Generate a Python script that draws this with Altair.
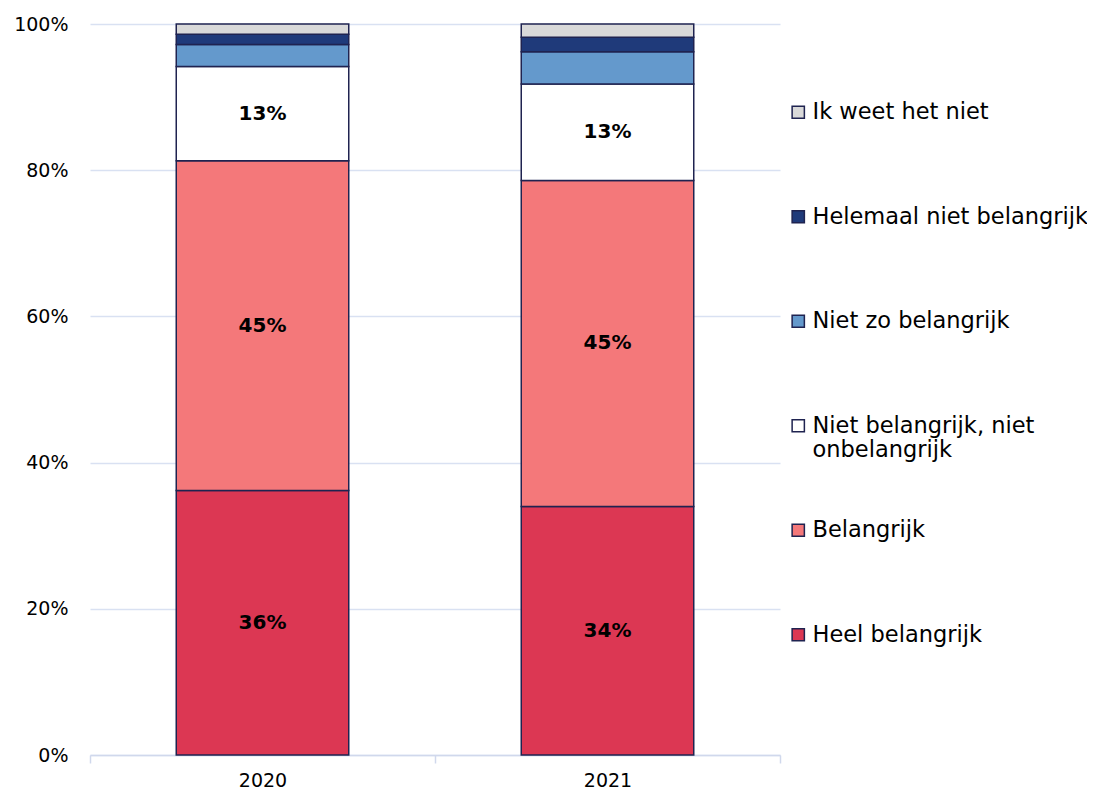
import altair as alt
import pandas as pd

years = ["2020", "2021"]
categories = ["Heel belangrijk", "Belangrijk", "Niet belangrijk, niet onbelangrijk",
              "Niet zo belangrijk", "Helemaal niet belangrijk", "Ik weet het niet"]
values_2020 = [36.2, 45.1, 12.9, 3.0, 1.4, 1.4]
values_2021 = [34.0, 44.6, 13.2, 4.4, 2.0, 1.8]
colors = ["#DC3753", "#F4787A", "#FFFFFF", "#6499CC", "#1F3A7A", "#D9D9D9"]
show_label = [True, True, True, False, False, False]

rows = []
for y, vals in zip(years, [values_2020, values_2021]):
    for i, (c, v) in enumerate(zip(categories, vals)):
        rows.append({"year": y, "cat": c, "value": v, "ord": i,
                     "lbl": f"{round(v)}%" if show_label[i] else ""})
df = pd.DataFrame(rows)

legend_order = categories[::-1]
legend_colors = colors[::-1]
FONT = "DejaVu Sans"

base = alt.Chart(df).transform_stack(
    stack="value", groupby=["year"], sort=[alt.SortField("ord", order="ascending")], as_=["y0", "y1"]
).transform_calculate(mid="(datum.y0 + datum.y1) / 2")

xenc = alt.X("year:N", title=None,
             scale=alt.Scale(paddingInner=0, paddingOuter=0),
             axis=alt.Axis(tickBand="extent", labelAngle=0, labelFontSize=19, labelFont=FONT,
                           labelColor="#000000", domainColor="#D0D8EC", tickColor="#D0D8EC",
                           tickSize=8, labelPadding=8, domainWidth=1.5, tickWidth=1.5))

bars = base.mark_bar(stroke="#1F2350", strokeWidth=1.5, width=alt.RelativeBandSize(0.5)).encode(
    x=xenc,
    y=alt.Y("y0:Q", title=None, scale=alt.Scale(domain=[0, 100], nice=False),
            axis=alt.Axis(values=[0, 20, 40, 60, 80, 100], labelExpr="datum.value + '%'",
                          labelFontSize=19, labelFont=FONT, labelColor="#000000",
                          domain=False, ticks=False, labelPadding=22,
                          gridColor="#D9E1F2", gridWidth=1.5)),
    y2="y1:Q",
    color=alt.Color("cat:N", scale=alt.Scale(domain=legend_order, range=legend_colors),
                    legend=alt.Legend(title=None, orient="none", legendX=697, legendY=77,
                                      symbolType="square", symbolSize=150, symbolStrokeColor="#1F2350",
                                      symbolStrokeWidth=1.5, labelFontSize=22.5, labelFont=FONT,
                                      labelColor="#000000", rowPadding=56.5, labelOffset=3,
                                      labelLimit=400, gridAlign="all",
                                      labelExpr="datum.label == 'Niet belangrijk, niet onbelangrijk' ? ['Niet belangrijk, niet', 'onbelangrijk'] : datum.label")),
)

texts = base.mark_text(fontSize=20, fontWeight="bold", font=FONT, color="#000000").encode(
    x=alt.X("year:N"),
    y=alt.Y("mid:Q"),
    text="lbl:N",
)

chart = alt.layer(bars, texts).properties(
    width=690, height=731,
    autosize=alt.AutoSizeParams(type="none"),
    padding={"left": 82, "top": 16, "right": 307, "bottom": 42},
).configure_view(stroke=None)

chart.save("out.html", embed_options={"renderer": "svg", "actions": False})
